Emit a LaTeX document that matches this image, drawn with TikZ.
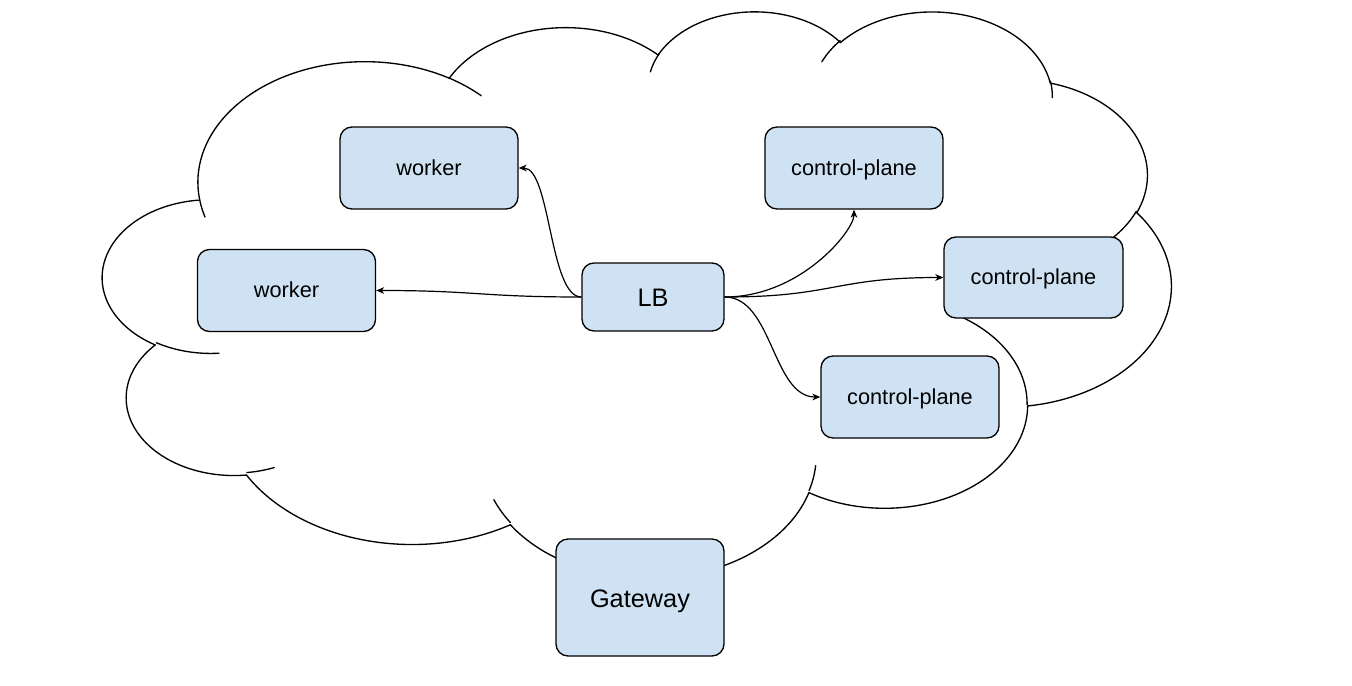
\documentclass[tikz,border=0pt]{standalone}
\usepackage{fontspec}
\setmainfont{Liberation Sans}
\usetikzlibrary{arrows.meta}
\definecolor{nodeblue}{HTML}{CFE2F3}
\newcommand\cldmove[2]{\xdef\cldX{#1}\xdef\cldY{#2}}
\newcommand\cldarc[4]{%
  \pgfmathsetmacro\cldts{atan2((#1)*sin(#3),(#2)*cos(#3))}%
  \pgfmathsetmacro\cldtea{atan2((#1)*sin((#3)+(#4)),(#2)*cos((#3)+(#4)))}%
  \pgfmathsetmacro\cldd{\cldtea-\cldts}%
  \pgfmathsetmacro\cldte{\cldts+\cldd+(((#4)>0)*(\cldd<0)-((#4)<0)*(\cldd>0))*360}%
  \pgfmathsetmacro\cldcx{\cldX-(#1)*cos(\cldts)}%
  \pgfmathsetmacro\cldcy{\cldY-(#2)*sin(\cldts)}%
  \draw[cloudline] plot[variable=\cldt,domain=\cldts:\cldte,samples=60,smooth] ({\cldcx+(#1)*cos(\cldt)},{\cldcy+(#2)*sin(\cldt)});%
  \pgfmathsetmacro\cldnx{\cldcx+(#1)*cos(\cldte)}%
  \pgfmathsetmacro\cldny{\cldcy+(#2)*sin(\cldte)}%
  \xdef\cldX{\cldnx}\xdef\cldY{\cldny}%
}
\tikzset{
  cloudline/.style={draw=black, line width=1pt, line cap=round},
  box/.style={draw=black, fill=nodeblue, line width=1pt, rounded corners=9pt, inner sep=0pt,
    minimum width=133.5pt, minimum height=61.5pt, font=\fontsize{16.3}{19}\selectfont,
    text height=11.9pt, text depth=1.1pt},
  bigbox/.style={box, font=\fontsize{19}{22}\selectfont, text height=14.4pt, text depth=0pt},
  conn/.style={draw=black, line width=0.9pt, -{Stealth[length=6pt,width=5pt,inset=1.8pt]}}
}
\begin{document}
\begin{tikzpicture}[x=0.75pt,y=-0.75pt]
\useasboundingbox (0,0) rectangle (1352,685);
% cloud (OOXML cloud geometry, path units / 10)
\begin{scope}[shift={(103,10)}, x=0.185417pt, y=-0.098333pt]
  \cldmove{390}{1437}
  \cldarc{675.3}{919.0}{-190.48748}{123.78053}
  \cldarc{533.3}{726.7}{-144.10238}{89.94523}
  \cldarc{436.5}{594.5}{-145.80792}{99.72302}
  \cldarc{485.7}{659.5}{-130.98607}{117.24173}
  \cldarc{533.3}{727.3}{-78.70888}{109.02692}
  \cldarc{677.5}{922.0}{-46.26725}{130.269}
  \cldarc{578.5}{786.7}{0.62502}{114.03333}
  \cldarc{675.2}{921.5}{22.4516}{115.17255}
  \cldarc{772.0}{1054.3}{66.24263}{75.71102}
  \cldarc{436.0}{591.8}{-274.94208}{146.73557}
  \cldarc{434.5}{594.5}{-246.8285}{152.51885}
  % inner arcs
  \cldmove{469.3}{2617.7}\cldarc{434.5}{594.5}{86.742}{26.4295}
  \cldmove{692.8}{3489.9}\cldarc{436.0}{591.8}{73.61047}{11.44747}
  \cldmove{1647.8}{3909.0}\cldarc{675.2}{921.5}{137.62415}{14.0811}
  \cldmove{2882.7}{3475.1}\cldarc{675.2}{921.5}{6.45327}{15.99835}
  \cldmove{3412.9}{2295.4}\cldarc{578.5}{786.7}{-70.29235}{70.91737}
  \cldmove{4179.8}{1535.4}\cldarc{533.3}{727.3}{30.31803}{27.7515}
  \cldmove{3832.4}{542.6}\cldarc{485.7}{659.5}{-13.74433}{14.8589}
  \cldmove{2907.8}{395.2}\cldarc{485.7}{659.5}{-149.18145}{18.19537}
  \cldmove{2214.1}{472.0}\cldarc{436.5}{594.5}{-163.49427}{17.68635}
  \cldmove{1400.0}{519.2}\cldarc{675.3}{919.0}{-66.70695}{12.31935}
  \cldmove{412.7}{1578.9}\cldarc{675.3}{919.0}{157.65435}{11.85817}
\end{scope}
% nodes
\node[box] (w1) at (429,168) {worker};
\node[box] (cp1) at (854,168) {control-plane};
\node[box] (w2) at (286.5,290.5) {worker};
\node[bigbox, minimum width=106.5pt, minimum height=51pt] (lb) at (653,297) {LB};
\node[box, minimum width=134.25pt, minimum height=60.75pt] (cp2) at (1033.5,277.5) {control-plane};
\node[box] (cp3) at (910,397) {control-plane};
\node[bigbox, minimum width=126pt, minimum height=87.75pt] (gw) at (640,597.5) {Gateway};
% connectors
\draw[conn] (lb.west) .. controls +(-32,0) and +(32,0) .. (w1.east);
\draw[conn] (lb.west) .. controls +(-100,0) and +(100,0) .. (w2.east);
\draw[conn] (lb.east) .. controls +(76,0) and +(0,21) .. (cp1.south);
\draw[conn] (lb.east) .. controls +(110,0) and +(-110,0) .. (cp2.west);
\draw[conn] (lb.east) .. controls +(48,0) and +(-48,0) .. (cp3.west);
\end{tikzpicture}
\end{document}
